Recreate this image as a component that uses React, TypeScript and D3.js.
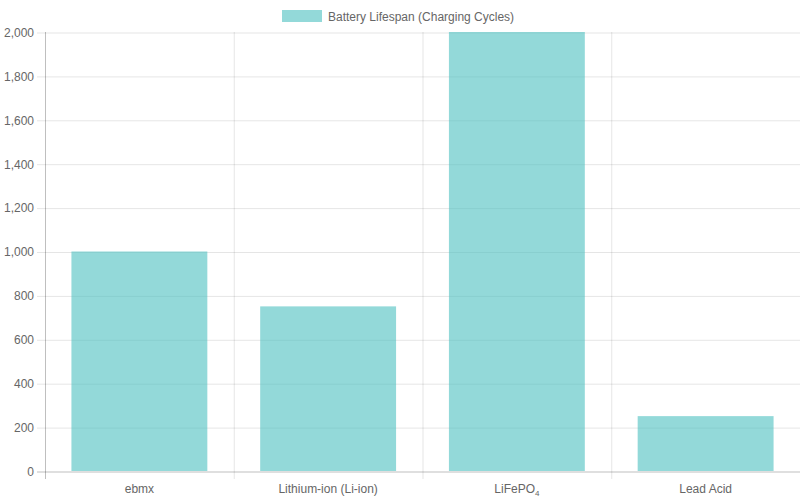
import * as d3 from "d3";
import { useEffect, useRef } from "react";

const width = 800;
const height = 500;
const marginTop = 32;
const marginRight = 0;
const marginBottom = 29;
const marginLeft = 45;

const categories = ["ebmx", "Lithium-ion (Li-ion)", "LiFePO4", "Lead Acid"];
const cycles = [1000, 750, 2000, 250];
const yTicks = [0, 200, 400, 600, 800, 1000, 1200, 1400, 1600, 1800, 2000];
const seriesLabel = "Battery Lifespan (Charging Cycles)";

const barFill = "rgba(75, 192, 192, 0.6)";
const gridColor = "rgba(0, 0, 0, 0.1)";
const textColor = "#666";
const font = "'Liberation Sans', Arial, Helvetica, sans-serif";

const App = () => {
  const gx = useRef<SVGGElement>(null);
  const gy = useRef<SVGGElement>(null);

  const x = d3
    .scaleBand()
    .domain(categories)
    .range([marginLeft, width - marginRight])
    .paddingInner(0)
    .paddingOuter(0);

  const y = d3
    .scaleLinear()
    .domain([0, 2000])
    .range([height - marginBottom, marginTop]);

  const band = x.bandwidth();
  const barWidth = band * 0.72;

  useEffect(() => {
    document.body.style.margin = "0";

    const gxSel = d3.select(gx.current!);
    gxSel.selectAll("*").remove();
    // vertical grid lines at category boundaries
    const bounds = categories.map((c) => x(c) as number).concat(width - marginRight);
    gxSel
      .selectAll("line.grid")
      .data(bounds)
      .join("line")
      .attr("class", "grid")
      .attr("x1", (d) => d + 0.5)
      .attr("x2", (d) => d + 0.5)
      .attr("y1", marginTop)
      .attr("y2", height - marginBottom + 8)
      .attr("stroke", (d, i) => (i === 0 ? "rgba(0,0,0,0.25)" : gridColor));

    const labels = gxSel
      .selectAll("text")
      .data(categories)
      .join("text")
      .attr("x", (d) => (x(d) as number) + band / 2)
      .attr("y", height - marginBottom + 22)
      .attr("text-anchor", "middle")
      .attr("fill", textColor)
      .style("font-family", font)
      .style("font-size", "12px");
    labels.each(function (d) {
      const t = d3.select(this);
      if (d === "LiFePO4") {
        t.append("tspan").text("LiFePO");
        t.append("tspan").attr("dy", 3).style("font-size", "8px").text("4");
      } else {
        t.text(d);
      }
    });

    const gySel = d3.select(gy.current!);
    gySel.selectAll("*").remove();
    gySel
      .call(
        d3
          .axisLeft(y)
          .tickValues(yTicks)
          .tickSize(8)
          .tickPadding(3)
          .tickFormat((d) => d3.format(",")(d as number))
      )
      .call((g) => g.select(".domain").remove())
      .call((g) =>
        g
          .selectAll(".tick line")
          .attr("stroke", (d) => ((d as number) === 0 ? "rgba(0,0,0,0.25)" : gridColor))
          .attr("x1", width - marginLeft - marginRight)
          .attr("x2", -8)
      )
      .call((g) =>
        g
          .selectAll(".tick text")
          .attr("fill", textColor)
          .style("font-family", font)
          .style("font-size", "12px")
      );
  }, []);

  return (
    <svg
      width={width}
      height={height}
      viewBox={`0 0 ${width} ${height}`}
      style={{ display: "block", background: "#fff" }}
    >
      <g ref={gx} />
      <g ref={gy} transform={`translate(${marginLeft}, 0.5)`} />
      {categories.map((c, i) => (
        <rect
          key={c}
          x={(x(c) as number) + (band - barWidth) / 2}
          y={y(cycles[i])}
          width={barWidth}
          height={y(0) - y(cycles[i])}
          fill={barFill}
        />
      ))}
      <g transform="translate(282, 10)">
        <rect width={40} height={12} fill={barFill} />
        <text
          x={46}
          y={10.5}
          fill={textColor}
          style={{ fontFamily: font, fontSize: "12px" }}
        >
          {seriesLabel}
        </text>
      </g>
    </svg>
  );
};

export default App;
